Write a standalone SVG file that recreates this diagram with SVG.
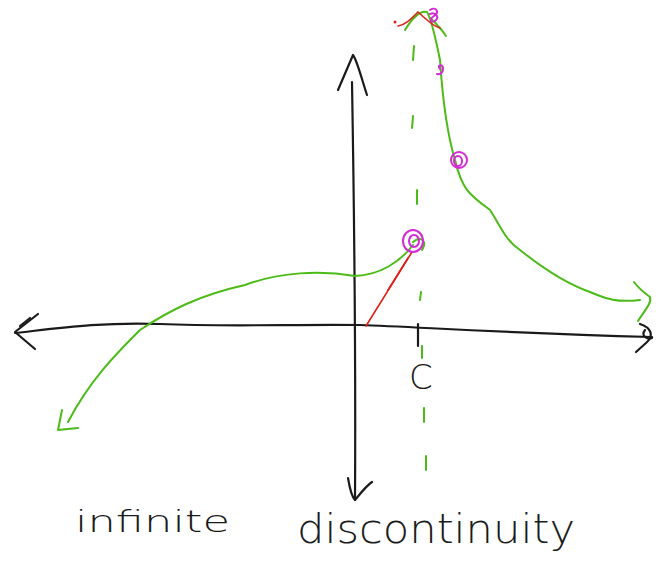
<svg xmlns="http://www.w3.org/2000/svg" width="672" height="575" viewBox="0 0 672 575">
<style>
.ink{fill:none;stroke:#1a1a1a;stroke-width:2.2;stroke-linecap:round;stroke-linejoin:round}
.g{fill:none;stroke:#4cbb17;stroke-width:2;stroke-linecap:round;stroke-linejoin:round}
.r{fill:none;stroke:#e0201a;stroke-width:1.6;stroke-linecap:round}
.m{fill:none;stroke:#d42ad4;stroke-width:2;stroke-linecap:round}
.t{font-family:"DejaVu Sans","Liberation Sans",sans-serif;fill:#1a1a1a;font-weight:300}
</style>
<rect width="672" height="575" fill="#ffffff"/>
<g id="axes">
<path id="x-axis" class="ink" d="M15,333 C60,328 100,322 160,324 C230,327 300,324 360,325 C420,327 500,333 652,337"/>
<path class="ink" d="M38,314 L15,332 L35,349"/>
<path class="ink" d="M20,326 L30,318"/>
<path class="ink" d="M640,324 C652,328 654,336 646,343 L636,352"/>
<path class="ink" d="M645,330 C640,336 648,340 652,338"/>
<path id="y-axis" class="ink" d="M352,82 C354,200 356,330 355,500"/>
<path class="ink" d="M338,90 L353,55 C357,60 362,80 367,95"/>
<path class="ink" d="M348,478 C350,490 353,498 355,500 C360,494 366,486 372,482"/>
<path class="ink" d="M418,324 L418,346"/>
</g>
<g id="dashes">
<path class="g" d="M414,46 L413,60"/>
<path class="g" d="M413,116 L412,128"/>
<path class="g" d="M417,190 L417,204"/>
<path class="g" d="M421,292 L420,300"/>
<path class="g" d="M422,346 L422,358"/>
<path class="g" d="M424,408 L424,422"/>
<path class="g" d="M426,456 L426,470"/>
</g>
<g id="curves">
<path class="g" d="M413,245 C400,262 380,275 355,276 C320,270 280,272 245,285 C200,295 170,310 140,330 C115,355 90,380 68,422"/>
<path class="g" d="M62,410 L58,430 L78,428"/>
<path class="g" d="M405,30 C410,22 418,10 427,12 C432,20 436,40 440,60 C442,90 446,130 455,160 C462,190 470,195 490,210 C500,225 505,240 520,250 C545,270 570,285 590,292 C605,298 615,303 640,300"/>
<path class="g" d="M634,282 C640,290 646,294 650,297 C652,303 645,310 638,321"/>
<path class="g" d="M430,18 C438,25 442,30 446,36"/>
<path class="g" d="M413,242 C420,236 428,240 422,250"/>
</g>
<g id="red">
<path class="r" d="M412,252 L366,326"/>
<path class="r" d="M408,258 L388,290"/>
<path class="r" d="M398,26 C405,25 410,20 418,12 C425,18 432,26 440,28"/>
<circle cx="395" cy="22" r="1.5" fill="#e0201a"/>
</g>
<g id="marks">
<path class="m" d="M430,10 C436,6 440,12 434,16 C428,20 432,24 436,20 C440,16 434,12 430,14"/>
<path class="m" d="M440,69 C436,64 444,64 443,69 C443,73 440,75 437,74"/>
<ellipse class="m" cx="459" cy="160" rx="8" ry="8"/>
<ellipse class="m" cx="458" cy="161" rx="4" ry="5"/>
<ellipse class="m" cx="413" cy="241" rx="10" ry="11"/>
<ellipse class="m" cx="414" cy="241" rx="5" ry="6"/>
</g>
<g id="labels">
<text class="t" x="409" y="389" font-size="34">C</text>
<text class="t" x="75" y="532" font-size="30" textLength="155" lengthAdjust="spacingAndGlyphs">infinite</text>
<text class="t" x="297" y="543" font-size="40" textLength="278" lengthAdjust="spacingAndGlyphs">discontinuity</text>
</g>
</svg>
